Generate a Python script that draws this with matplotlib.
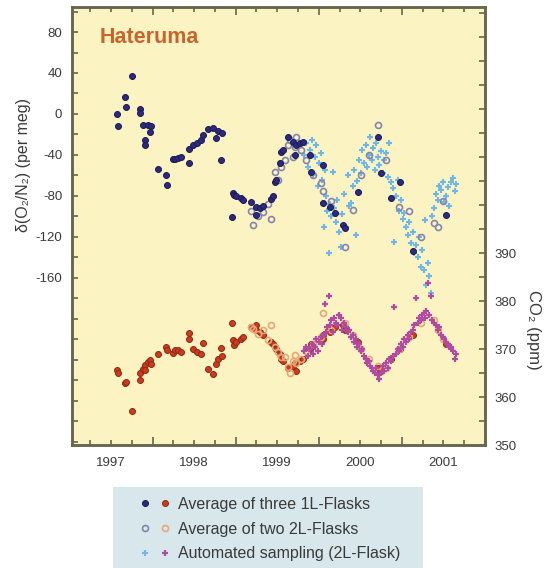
import matplotlib
matplotlib.use('Agg')
import matplotlib.pyplot as plt
from matplotlib.ticker import MultipleLocator, FixedLocator, FuncFormatter
from matplotlib.legend_handler import HandlerTuple
from matplotlib.patches import Rectangle

plt.rcParams['font.family'] = ['Liberation Sans', 'DejaVu Sans']
plt.rcParams['axes.unicode_minus'] = False

# --- Average of three 1L-Flasks (time, O2/N2 per meg, CO2 ppm) ---
t_three = [1997.069, 1997.088, 1997.169, 1997.181, 1997.253, 1997.343, 1997.353, 1997.385,
           1997.413, 1997.413, 1997.446, 1997.473, 1997.482, 1997.570, 1997.663, 1997.675,
           1997.743, 1997.771, 1997.803, 1997.843, 1997.936, 1997.936, 1997.984, 1998.036,
           1998.084, 1998.105, 1998.165, 1998.225, 1998.265, 1998.285, 1998.325, 1998.334,
           1998.454, 1998.466, 1998.485, 1998.506, 1998.566, 1998.587, 1998.687, 1998.747,
           1998.747, 1998.787, 1998.828, 1998.928, 1998.948, 1998.967, 1998.988, 1999.028,
           1999.048, 1999.069, 1999.129, 1999.189, 1999.208, 1999.229, 1999.269, 1999.309,
           1999.389, 1999.410, 1999.551, 1999.551, 1999.630, 1999.690, 1999.791, 1999.811,
           1999.972, 2000.213, 2000.253, 2000.373, 2000.473, 2000.635, 2001.036]
o2_three = [0.0, -11.4, 16.9, 6.5, 37.4, 4.6, 0.7, -10.7,
            -25.4, -30.2, -10.5, -17.3, -12.0, -54.0, -59.5, -69.3,
            -44.2, -43.5, -43.2, -42.2, -47.5, -34.4, -30.2, -28.0,
            -25.4, -20.5, -14.9, -14.0, -23.7, -16.3, -44.9, -18.2,
            -100.8, -76.8, -79.0, -80.0, -82.2, -84.0, -85.6, -90.5,
            -98.5, -91.5, -90.0, -83.2, -80.2, -66.0, -64.4, -48.0,
            -36.7, -35.0, -22.0, -27.0, -40.0, -30.2, -28.6, -27.0,
            -40.0, -56.3, -49.8, -87.0, -90.5, -97.0, -108.0, -111.0,
            -75.8, -22.0, -58.0, -82.0, -66.0, -134.0, -98.5]
co2_three = [365.7, 365.1, 363.0, 363.2, 357.0, 363.5, 365.1, 365.9,
             366.6, 365.6, 367.3, 367.8, 366.9, 368.9, 370.4, 369.7,
             369.2, 369.7, 369.7, 369.4, 373.3, 372.1, 370.1, 369.4,
             369.0, 371.2, 365.9, 364.8, 366.8, 368.0, 370.2, 368.5,
             375.4, 371.8, 370.8, 371.5, 372.1, 372.5, 374.5, 374.0,
             375.0, 373.5, 373.0, 371.5, 371.0, 370.5, 370.0, 369.0,
             368.0, 367.5, 366.0, 366.5, 367.0, 365.5, 367.5, 368.0,
             370.0, 371.0, 372.0, 373.0, 373.5, 374.5, 375.0, 374.0,
             371.5, 366.0, 365.5, 368.0, 370.0, 373.0, 371.0]

# --- Average of two 2L-Flasks ---
t_two = [1998.687, 1998.711, 1998.768, 1998.828, 1998.888, 1998.928, 1998.968, 1999.008,
         1999.048, 1999.088, 1999.129, 1999.148, 1999.189, 1999.208, 1999.229, 1999.289,
         1999.349, 1999.434, 1999.530, 1999.551, 1999.651, 1999.811, 1999.916, 2000.012,
         2000.108, 2000.217, 2000.313, 2000.470, 2000.590, 2000.735, 2000.892, 2000.940,
         2001.000]
o2_two = [-95, -108, -100, -96, -88, -102, -57, -64,
          -52, -45, -30, -25, -42, -32, -22, -35,
          -45, -60, -67, -75, -85, -130, -94, -60,
          -40, -11, -45, -91, -95, -120, -106, -110,
          -85]
co2_two = [374.5, 374.2, 373.2, 373.9, 371.8, 375.1, 370.4, 369.4,
           368.4, 368.4, 366.3, 364.9, 367.5, 368.7, 367.0, 368.0,
           369.5, 371.0, 372.5, 377.6, 374.0, 375.5, 373.0, 370.0,
           368.0, 366.5, 366.0, 370.0, 372.5, 375.5, 376.0, 374.0,
           372.0]

# --- Automated sampling (2L-Flask) ---
t_auto = [1999.325, 1999.349, 1999.373, 1999.397, 1999.421, 1999.434, 1999.458, 1999.470,
          1999.494, 1999.506, 1999.530, 1999.542, 1999.566, 1999.578, 1999.590, 1999.602,
          1999.626, 1999.638, 1999.651, 1999.675, 1999.687, 1999.711, 1999.723, 1999.747,
          1999.771, 1999.783, 1999.807, 1999.831, 1999.855, 1999.867, 1999.892, 1999.916,
          1999.928, 1999.952, 1999.964, 1999.988, 2000.012, 2000.024, 2000.048, 2000.072,
          2000.084, 2000.108, 2000.120, 2000.145, 2000.157, 2000.181, 2000.193, 2000.217,
          2000.229, 2000.253, 2000.277, 2000.289, 2000.313, 2000.337, 2000.349, 2000.373,
          2000.398, 2000.410, 2000.434, 2000.458, 2000.470, 2000.494, 2000.518, 2000.530,
          2000.554, 2000.578, 2000.590, 2000.615, 2000.639, 2000.651, 2000.675, 2000.699,
          2000.711, 2000.735, 2000.747, 2000.771, 2000.783, 2000.795, 2000.819, 2000.831,
          2000.856, 2000.868, 2000.892, 2000.916, 2000.940, 2000.952, 2000.976, 2001.000,
          2001.012, 2001.036, 2001.060, 2001.072, 2001.096, 2001.120, 2001.133, 2001.157]
o2_auto = [-40, -28, -52, -35, -25, -60, -42, -30,
           -70, -48, -38, -64, -110, -55, -80, -95,
           -136, -88, -100, -57, -92, -105, -84, -115,
           -130, -98, -78, -110, -60, -90, -87, -70,
           -55, -118, -65, -45, -58, -35, -48, -30,
           -52, -40, -22, -45, -33, -55, -28, -42,
           -50, -36, -58, -45, -38, -61, -28, -66,
           -72, -125, -80, -64, -95, -84, -102, -97,
           -110, -118, -105, -126, -115, -136, -128, -140,
           -120, -149, -133, -152, -103, -167, -145, -158,
           -175, -100, -92, -78, -84, -70, -74, -66,
           -86, -80, -71, -90, -66, -62, -75, -68]
co2_auto = [369.5, 370.5, 368.5, 370.0, 371.0, 369.0, 370.5, 372.0,
            369.5, 371.5, 372.5, 371.0, 373.0, 379.3, 373.5, 374.5,
            381.0, 375.0, 376.0, 373.5, 376.5, 375.5, 375.0, 377.0,
            376.5, 374.0, 375.5, 374.5, 373.5, 374.0, 372.5, 373.0,
            371.5, 372.0, 370.5, 371.0, 369.5, 370.0, 368.5, 368.0,
            367.0, 367.5, 366.5, 366.0, 365.5, 365.0, 366.0, 364.5,
            363.8, 365.0, 366.5, 365.5, 367.0, 366.0, 368.0, 367.5,
            368.5, 378.7, 369.0, 370.0, 369.5, 371.0, 370.5, 372.0,
            371.5, 373.0, 372.0, 373.5, 374.0, 375.0, 380.7, 375.5,
            376.5, 376.0, 377.0, 377.5, 376.5, 378.0, 383.8, 377.0,
            381.0, 376.0, 375.5, 375.0, 374.0, 374.5, 373.0, 372.5,
            372.0, 371.5, 371.0, 370.5, 370.4, 369.5, 368.0, 369.0]

year_labels = [1997, 1998, 1999, 2000, 2001]
o2_ticks = [80, 40, 0, -40, -80, -120, -160]
co2_ticks = [350, 360, 370, 380, 390]

labels = ['Average of three 1L-Flasks', 'Average of two 2L-Flasks',
          'Automated sampling (2L-Flask)']

# colours
bg = '#fbf4c2'
spine_c = '#66664e'
txt_c = '#3a3a3a'
navy = '#2c2a80'
red = '#cc3b1c'
o2_open = '#8484b0'
co2_open = '#e9a676'
light_blue = '#6fb6ea'
magenta = '#b04aa4'

fig = plt.figure(figsize=(5.48, 5.68), dpi=100)
ax = fig.add_axes([72 / 548, 1 - 445 / 568, 413 / 548, 438 / 568])
ax.set_facecolor(bg)
ax2 = ax.twinx()

# O2/N2
ax.plot(t_auto, o2_auto, ls='none', marker='+', ms=5, mew=1.5, color=light_blue)
ax.plot(t_two, o2_two, ls='none', marker='o', ms=4.3, mfc='none', mec=o2_open, mew=1.2)
ax.plot(t_three, o2_three, ls='none', marker='o', ms=4.3, mfc=navy, mec='#1c1b52', mew=0.7)

# CO2
ax2.plot(t_three, co2_three, ls='none', marker='o', ms=4.3, mfc=red, mec='#8a2a14', mew=0.7)
ax2.plot(t_two, co2_two, ls='none', marker='o', ms=4.3, mfc='none', mec=co2_open, mew=1.2)
ax2.plot(t_auto, co2_auto, ls='none', marker='+', ms=5, mew=1.6, color=magenta)

ax.set_xlim(1996.53, 2001.5)
ax.set_ylim(-323, 104.4)
ax2.set_ylim(350, 441.25)

# x ticks: long ticks at mid-year, quarter ticks, year labels
ax.xaxis.set_major_locator(FixedLocator([1997.5, 1998.5, 1999.5, 2000.5]))
ax.xaxis.set_major_formatter(FuncFormatter(lambda v, p: ''))
ax.xaxis.set_minor_locator(MultipleLocator(0.25))
ax.xaxis.set_minor_formatter(FuncFormatter(
    lambda v, p: str(int(round(v))) if abs(v - round(v)) < 1e-6 and int(round(v)) in year_labels else ''))

ax.yaxis.set_major_locator(FixedLocator(o2_ticks))
ax.yaxis.set_minor_locator(MultipleLocator(20))
ax2.yaxis.set_major_locator(FixedLocator(co2_ticks))
ax2.yaxis.set_minor_locator(MultipleLocator(5))

ax.tick_params(axis='x', which='both', direction='in', top=True, bottom=True,
               color=spine_c, width=1.2, labelsize=9.5, pad=9, labelcolor=txt_c)
ax.tick_params(axis='x', which='major', length=6)
ax.tick_params(axis='x', which='minor', length=3.5)
ax.tick_params(axis='y', which='both', direction='in', left=True, right=False,
               color=spine_c, width=1.2, length=4, labelsize=9.5, pad=7, labelcolor=txt_c)
ax2.tick_params(axis='y', which='both', direction='in', right=True,
                color=spine_c, width=1.2, length=4, labelsize=9.5, pad=7, labelcolor=txt_c)

for a in (ax, ax2):
    for s in a.spines.values():
        s.set_color(spine_c)
        s.set_linewidth(1.8)

ax.text(0.068, 0.93, 'Hateruma', transform=ax.transAxes, fontsize=15.5,
        fontweight='bold', color='#c8652c', va='center', ha='left')

fig.text(24 / 548, 1 - 165 / 568, 'δ(O₂/N₂) (per meg)', rotation=90,
         ha='center', va='center', fontsize=11.5, color=txt_c)
fig.text(533 / 548, 1 - 330 / 568, 'CO₂ (ppm)', rotation=270,
         ha='center', va='center', fontsize=12, color=txt_c)

# legend
fig.patches.append(Rectangle((113 / 548, 0), 310 / 548, 81 / 568,
                             transform=fig.transFigure, facecolor='#d7e7eb',
                             edgecolor='none', zorder=0))
h_three = (ax.lines[2], ax2.lines[0])
h_two = (ax.lines[1], ax2.lines[1])
h_auto = (ax.lines[0], ax2.lines[2])
fig.legend([h_three, h_two, h_auto], labels,
           handler_map={tuple: HandlerTuple(ndivide=None, pad=0.625)},
           loc='upper left', bbox_to_anchor=(140 / 548, 1 - 497 / 568),
           frameon=False, fontsize=11.5, handlelength=1.875, handletextpad=0.5,
           labelspacing=0.6, borderpad=0, borderaxespad=0, labelcolor=txt_c)

fig.savefig('out.png', dpi=100)
